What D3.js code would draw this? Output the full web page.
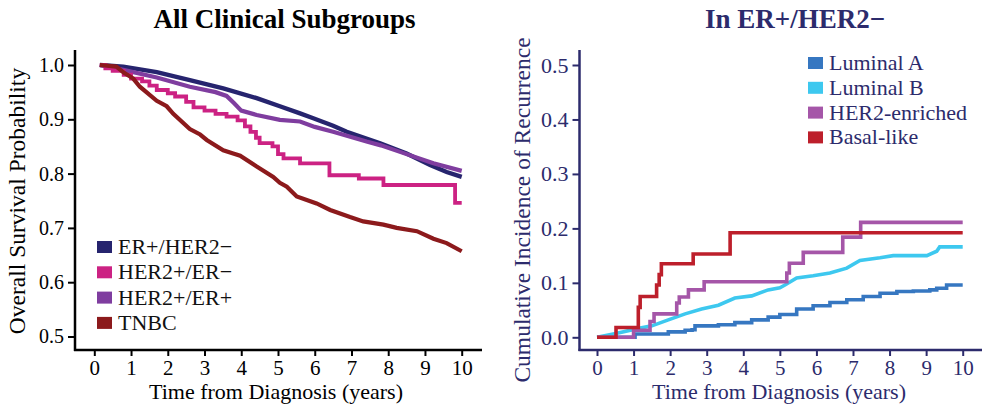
<!DOCTYPE html>
<html>
<head>
<meta charset="utf-8">
<script src="https://cdn.jsdelivr.net/npm/d3@7"></script>
<style>
  html, body { margin: 0; padding: 0; background: #fff; }
  svg { display: block; font-family: "Liberation Serif", "Times New Roman", serif; }
</style>
</head>
<body>
<svg id="chart" width="982" height="408"></svg>
<script>
// ---------------- DATA ----------------
// Left panel: overall survival by clinical subgroup  [years, survival]
const leftSeriesNames = ["ER+/HER2\u2212", "HER2+/ER\u2212", "HER2+/ER+", "TNBC"];
const erPosHer2Neg = [[0.15,1.0],[0.79,0.997],[1.7,0.987],[2.6,0.972],[3.51,0.957],[4.42,0.939],[5.05,0.924],[5.6,0.911],[5.96,0.902],[6.5,0.888],[6.87,0.877],[7.78,0.856],[8.5,0.837],[9.14,0.816],[9.59,0.803],[10,0.794]];
const her2PosErNeg = [[0.15,1.0],[0.3,0.994],[0.5,0.989],[0.8,0.982],[1.0,0.975],[1.3,0.970],[1.5,0.962],[1.7,0.954],[2.0,0.948],[2.2,0.942],[2.5,0.932],[2.7,0.922],[3.0,0.916],[3.3,0.910],[3.6,0.905],[3.9,0.898],[4.1,0.887],[4.25,0.877],[4.4,0.866],[4.5,0.856],[4.85,0.850],[5.0,0.836],[5.15,0.828],[5.6,0.819],[6.4,0.797],[7.2,0.791],[7.87,0.779],[9.82,0.746],[10,0.746]];
const her2PosErPos = [[0.15,1.0],[0.79,0.991],[1.7,0.977],[2.6,0.960],[3.3,0.950],[3.6,0.943],[3.8,0.930],[4.0,0.916],[4.42,0.908],[5.05,0.899],[5.6,0.896],[6.0,0.886],[6.5,0.877],[7.41,0.859],[7.8,0.852],[8.32,0.840],[9.23,0.819],[10,0.805]];
const tnbc = [[0.15,1.0],[0.6,0.997],[0.8,0.986],[1.06,0.975],[1.24,0.960],[1.7,0.934],[1.97,0.924],[2.15,0.910],[2.6,0.882],[2.88,0.872],[3.06,0.862],[3.51,0.843],[3.78,0.837],[3.97,0.833],[4.42,0.813],[4.87,0.794],[5.05,0.783],[5.24,0.776],[5.51,0.758],[6.05,0.745],[6.42,0.733],[6.96,0.720],[7.32,0.712],[7.87,0.706],[8.23,0.700],[8.78,0.694],[9.23,0.680],[9.59,0.672],[10,0.657]];

// Right panel: cumulative incidence of recurrence in ER+/HER2-  [years, incidence]
const rightSeriesNames = ["Luminal A", "Luminal B", "HER2-enriched", "Basal-like"];
const luminalA = [[0,0],[1.04,0.006],[1.95,0.010],[2.41,0.013],[2.6,0.014],[2.68,0.021],[3.32,0.023],[3.77,0.027],[4.23,0.032],[4.68,0.037],[5.0,0.042],[5.46,0.052],[5.91,0.058],[6.37,0.064],[6.83,0.069],[7.28,0.075],[7.74,0.081],[8.2,0.084],[8.65,0.085],[9.1,0.087],[9.29,0.090],[9.56,0.096],[10,0.096]];
const luminalB = [[0,0],[0.58,0.008],[1.04,0.015],[1.5,0.021],[1.95,0.032],[2.41,0.043],[2.86,0.052],[3.32,0.059],[3.77,0.072],[4.23,0.076],[4.68,0.087],[5.0,0.091],[5.14,0.096],[5.46,0.109],[5.91,0.113],[6.37,0.118],[6.83,0.127],[7.19,0.141],[7.74,0.146],[8.1,0.150],[9.02,0.150],[9.29,0.158],[9.37,0.166],[10,0.166]];
const her2Enriched = [[0,0],[1.0,0.013],[1.45,0.029],[1.56,0.043],[2.18,0.063],[2.25,0.074],[2.5,0.087],[2.93,0.102],[5.19,0.118],[5.26,0.136],[5.64,0.156],[6.72,0.184],[7.21,0.211],[10,0.211]];
const basalLike = [[0,0],[0.52,0.018],[1.13,0.055],[1.18,0.075],[1.63,0.096],[1.70,0.115],[1.76,0.135],[2.63,0.153],[3.64,0.192],[10,0.192]];

// Tick values / labels
const xTickValues = [0,1,2,3,4,5,6,7,8,9,10];
const leftYTicks = [0.5,0.6,0.7,0.8,0.9,1.0];
const rightYTicks = [0.0,0.1,0.2,0.3,0.4,0.5];
const leftTitle = "All Clinical Subgroups";
const rightTitle = "In ER+/HER2\u2212";
const xAxisTitle = "Time from Diagnosis (years)";
const leftYTitle = "Overall Survival Probability";
const rightYTitle = "Cumulative Incidence of Recurrence";

// ---------------- STYLE ----------------
const leftColors = ["#26246e", "#cc2283", "#7f3d9f", "#8c1a1c"];
const rightColors = ["#3677c1", "#3dc8ef", "#a556a8", "#bd1f2b"];
const navyText = "#2c2b6c";
const FONT = "Liberation Serif, Times New Roman, serif";

const svg = d3.select("#chart");

function panel(cfg) {
  const g = svg.append("g");
  const x = d3.scaleLinear().domain([0, 10]).range(cfg.xRange);
  const y = d3.scaleLinear().domain(cfg.yDomain).range(cfg.yRange);

  g.append("text").attr("x", cfg.titleX).attr("y", 28).attr("text-anchor", "middle")
    .attr("font-size", 27).attr("font-weight", "bold").attr("fill", cfg.textColor).text(cfg.title);

  const xAxis = d3.axisBottom(x).tickValues(xTickValues).tickFormat(d3.format("d")).tickSize(6).tickPadding(4);
  const yAxis = d3.axisLeft(y).tickValues(cfg.yTicks).tickFormat(d3.format(".1f")).tickSize(7).tickPadding(4);

  const gx = g.append("g").attr("transform", `translate(0,${cfg.axisY})`).call(xAxis);
  const gy = g.append("g").attr("transform", `translate(${cfg.axisX},0)`).call(yAxis);
  [[gx, 21], [gy, cfg.yTickFont]].forEach(([a, fs]) => {
    a.attr("font-family", FONT);
    a.select(".domain").remove();
    a.selectAll(".tick line").attr("stroke", cfg.textColor).attr("stroke-width", 2);
    a.selectAll(".tick text").attr("fill", cfg.textColor).attr("font-size", fs);
  });
  g.append("line").attr("x1", cfg.axisX).attr("x2", cfg.axisX).attr("y1", 50).attr("y2", cfg.axisY + 1)
    .attr("stroke", cfg.textColor).attr("stroke-width", 2.5);
  g.append("line").attr("x1", cfg.axisX - 1).attr("x2", cfg.axisXEnd).attr("y1", cfg.axisY).attr("y2", cfg.axisY)
    .attr("stroke", cfg.textColor).attr("stroke-width", 2.5);

  g.append("text").attr("x", cfg.xTitleX).attr("y", 399).attr("text-anchor", "middle")
    .attr("font-size", 22).attr("fill", cfg.textColor).text(xAxisTitle);
  g.append("text").attr("transform", `translate(${cfg.yTitleX},${cfg.yTitleY}) rotate(-90)`)
    .attr("text-anchor", "middle").attr("font-size", 23.5).attr("fill", cfg.textColor).text(cfg.yTitle);

  cfg.series.forEach((s, i) => {
    const line = d3.line().x(d => x(d[0])).y(d => y(d[1])).curve(cfg.curves[i]);
    g.append("path").datum(s).attr("d", line).attr("fill", "none")
      .attr("stroke", cfg.colors[i]).attr("stroke-width", cfg.widths[i]).attr("stroke-linejoin", "miter");
  });

  cfg.legendNames.forEach((n, i) => {
    const by = cfg.legendY + i * cfg.legendStep;
    g.append("rect").attr("x", cfg.legendX).attr("y", by - 13).attr("width", 15).attr("height", 12)
      .attr("fill", cfg.legendColors[i]);
    g.append("text").attr("x", cfg.legendX + 21).attr("y", by).attr("font-size", 22)
      .attr("fill", cfg.legendText).text(n);
  });
}

panel({
  title: leftTitle, titleX: 284.5, textColor: "#000", legendText: "#111", yTickFont: 20,
  xRange: [94.3, 461.7], yDomain: [0.5, 1.0], yRange: [336.5, 65], yTicks: leftYTicks,
  axisX: 75, axisY: 350, axisXEnd: 482,
  xTitleX: 276, yTitleX: 25, yTitleY: 201, yTitle: leftYTitle,
  // drawing order: ER+/HER2-, HER2+/ER+, HER2+/ER-, TNBC
  series: [erPosHer2Neg, her2PosErPos, her2PosErNeg, tnbc],
  colors: [leftColors[0], leftColors[2], leftColors[1], leftColors[3]],
  widths: [4.4, 4.2, 3.8, 4.2],
  curves: [d3.curveLinear, d3.curveLinear, d3.curveStepAfter, d3.curveLinear],
  legendNames: leftSeriesNames, legendColors: leftColors, legendX: 97, legendY: 254, legendStep: 25.3
});

panel({
  title: rightTitle, titleX: 795, textColor: navyText, legendText: navyText, yTickFont: 22,
  xRange: [597, 962.7], yDomain: [0, 0.5], yRange: [337.3, 65], yTicks: rightYTicks,
  axisX: 579.5, axisY: 350, axisXEnd: 982,
  xTitleX: 779, yTitleX: 530, yTitleY: 210, yTitle: rightYTitle,
  series: [luminalA, luminalB, her2Enriched, basalLike],
  colors: rightColors,
  widths: [3.6, 3.6, 3.6, 3.6],
  curves: [d3.curveStepAfter, d3.curveLinear, d3.curveStepAfter, d3.curveStepAfter],
  legendNames: rightSeriesNames, legendColors: rightColors, legendX: 808, legendY: 70, legendStep: 24.8
});
</script>
</body>
</html>
